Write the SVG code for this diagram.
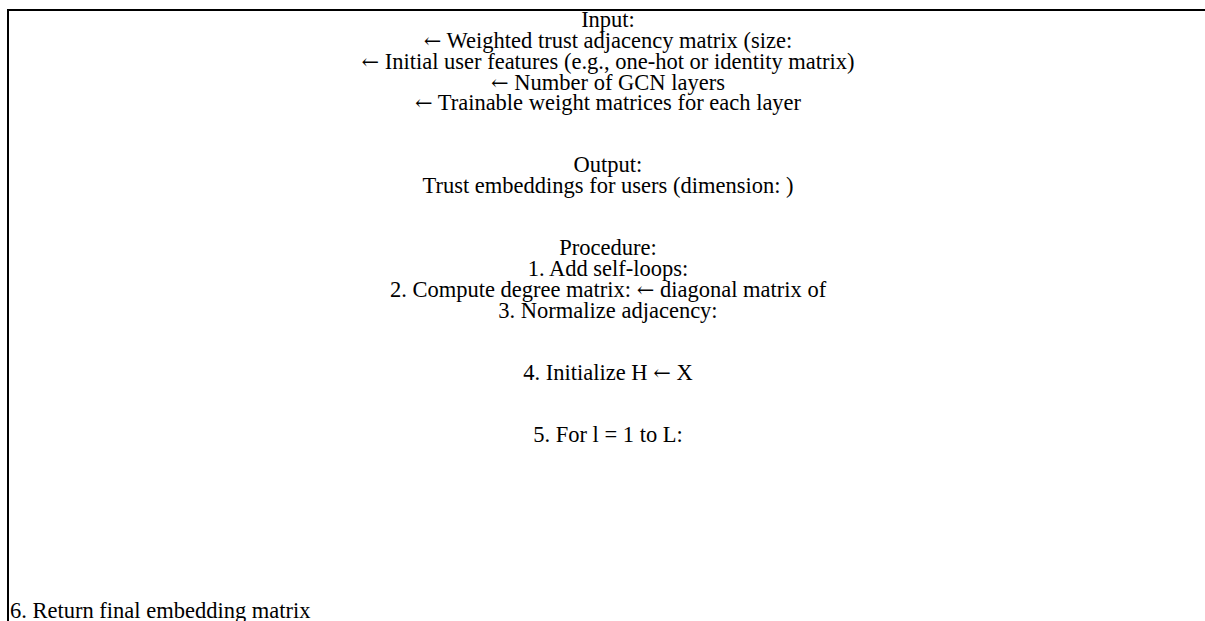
<svg xmlns="http://www.w3.org/2000/svg" width="1205" height="621" viewBox="0 0 1205 621">
<style>
text{font-family:"Liberation Serif","Times New Roman",serif;font-size:22.5px;fill:#000}
.c{text-anchor:middle}
.a{font-family:"DejaVu Serif",serif;font-size:21px}
</style>
<rect width="1205" height="621" fill="#fff"/>
<g id="box">
<path d="M8 630 V10 H1215" fill="none" stroke="#000" stroke-width="2"/>
</g>
<g id="content">
<text class="c" x="608" y="27">Input:</text>
<text class="c" x="608" y="48"><tspan class="a">←</tspan> Weighted trust adjacency matrix (size:</text>
<text class="c" x="608" y="69"><tspan class="a">←</tspan> Initial user features (e.g., one-hot or identity matrix)</text>
<text class="c" x="608" y="90"><tspan class="a">←</tspan> Number of GCN layers</text>
<text class="c" x="608" y="110"><tspan class="a">←</tspan> Trainable weight matrices for each layer</text>
<text class="c" x="608" y="172">Output:</text>
<text class="c" x="608" y="193">Trust embeddings for users (dimension: )</text>
<text class="c" x="608" y="255">Procedure:</text>
<text class="c" x="608" y="276">1. Add self-loops:</text>
<text class="c" x="608" y="297">2. Compute degree matrix:  <tspan class="a">←</tspan> diagonal matrix of</text>
<text class="c" x="608" y="318">3. Normalize adjacency:</text>
<text class="c" x="608" y="380">4. Initialize H <tspan class="a">←</tspan> X</text>
<text class="c" x="608" y="442">5. For l = 1 to L:</text>
<text x="10" y="618">6. Return final embedding matrix</text>
</g>
</svg>
